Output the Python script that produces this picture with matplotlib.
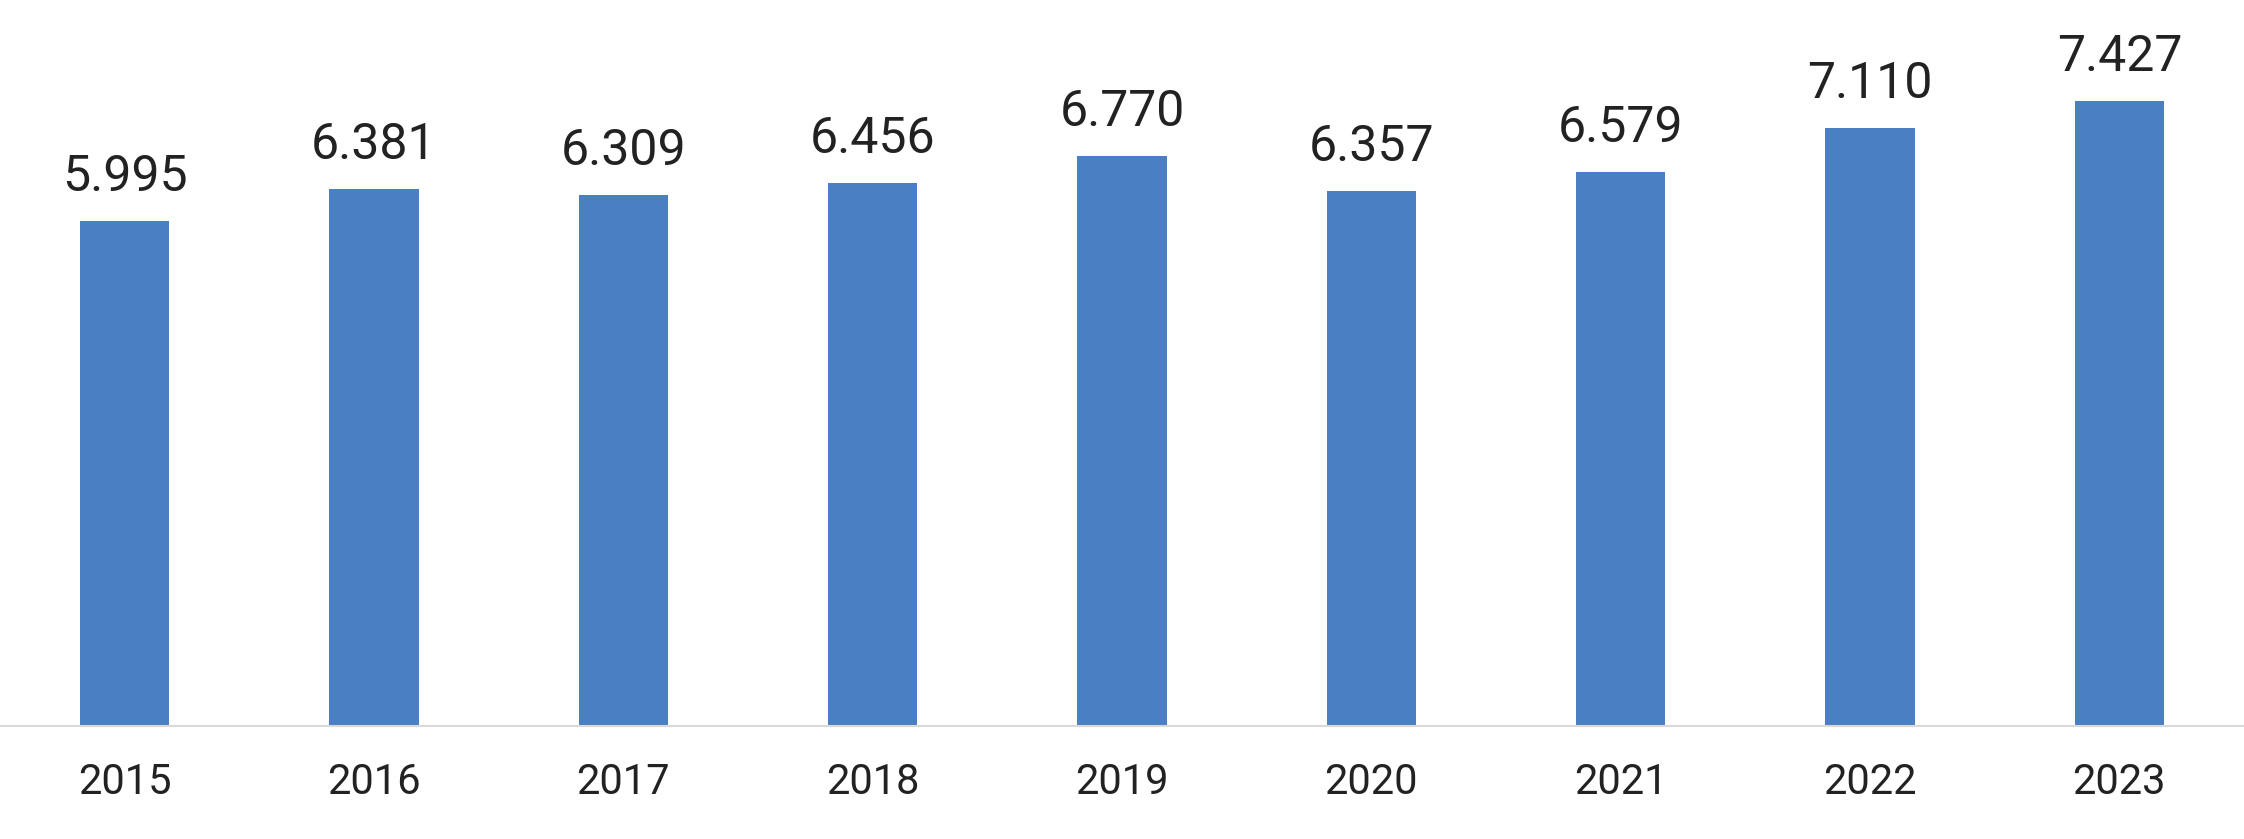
import matplotlib.pyplot as plt

# data
years = ['2015', '2016', '2017', '2018', '2019', '2020', '2021', '2022', '2023']
values = [5995, 6381, 6309, 6456, 6770, 6357, 6579, 7110, 7427]

plt.rcParams['font.family'] = ['Roboto', 'DejaVu Sans']

fig = plt.figure(figsize=(22.44, 8.39), dpi=100)
ax = fig.add_axes([0, 113 / 839, 1, 726 / 839])

x = range(len(years))
bars = ax.bar(x, values, width=0.357, color='#4A7FC4')

ax.set_xlim(-0.5, len(years) - 0.5)
ax.set_ylim(0, 8627)

# value labels above bars
for xi, v in zip(x, values):
    ax.annotate(f'{v:,}'.replace(',', '.'), (xi, v), xytext=(0, 21.6),
                textcoords='offset points', ha='center', va='baseline',
                fontsize=36, color='#222222')

ax.set_xticks(list(x))
ax.set_xticklabels(years, fontsize=30, color='#222222')
ax.tick_params(axis='x', length=0, pad=26)
ax.set_yticks([])

for s in ['top', 'left', 'right']:
    ax.spines[s].set_visible(False)
ax.spines['bottom'].set_color('#d9d9d9')
ax.spines['bottom'].set_linewidth(1.5)

fig.savefig('out.png', dpi=100)
